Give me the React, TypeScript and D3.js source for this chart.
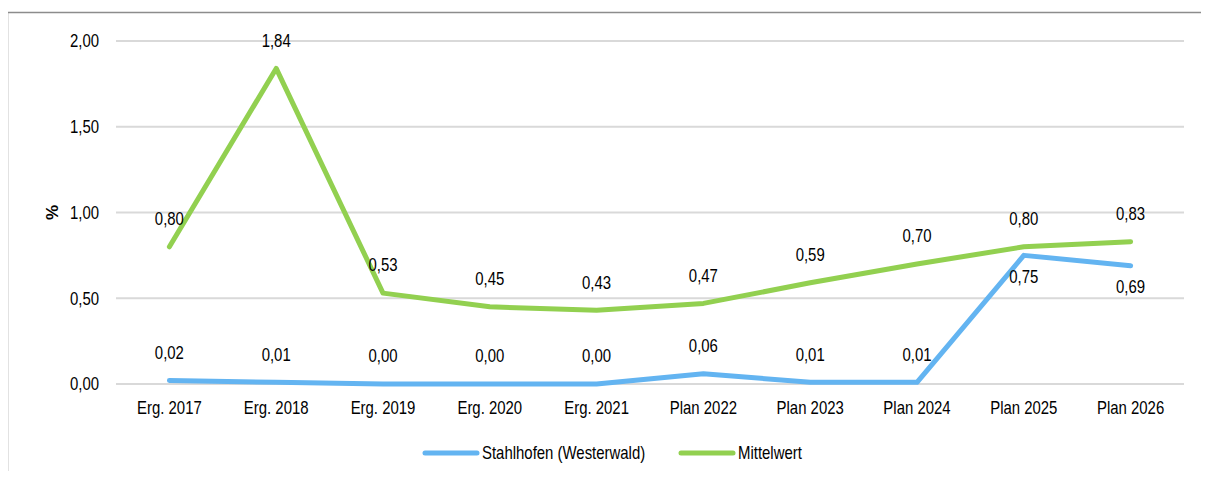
import { useEffect, useRef } from "react";
import * as d3 from "d3";

const categories = [
  "Erg. 2017", "Erg. 2018", "Erg. 2019", "Erg. 2020", "Erg. 2021",
  "Plan 2022", "Plan 2023", "Plan 2024", "Plan 2025", "Plan 2026",
];
const stahlhofen = [0.02, 0.01, 0.0, 0.0, 0.0, 0.06, 0.01, 0.01, 0.75, 0.69];
const mittelwert = [0.8, 1.84, 0.53, 0.45, 0.43, 0.47, 0.59, 0.7, 0.8, 0.83];
const yTicks = [0, 0.5, 1, 1.5, 2];
// label placement: true = below the point
const stahlBelow = [false, false, false, false, false, false, false, false, true, true];

const FONT = "'Liberation Sans', Arial, sans-serif";
const NARROW = 0.83; // no narrow font installed, squeeze horizontally
const BLUE = "#63b4f1";
const GREEN = "#92d050";

const fmt = (v: number) => d3.format(".2f")(v).replace(".", ",");

export default function App() {
  const svgRef = useRef<SVGSVGElement>(null);

  useEffect(() => {
    if (!svgRef.current) return;
    const width = 1209;
    const height = 479;
    const svg = d3.select(svgRef.current);
    svg.selectAll("*").remove();
    svg.attr("width", width).attr("height", height);

    const label = (
      parent: d3.Selection<any, any, any, any>,
      px: number,
      py: number,
      txt: string,
      anchor: string,
      weight = 400
    ) => {
      parent.append("g")
        .attr("transform", `translate(${px},${py}) scale(${NARROW},1)`)
        .append("text")
        .attr("dy", "0.35em")
        .attr("text-anchor", anchor)
        .attr("font-family", FONT)
        .attr("font-size", 18)
        .attr("font-weight", weight)
        .attr("fill", "#000")
        .text(txt);
    };

    // outer frame (left + top visible)
    svg.append("path")
      .attr("d", `M7.5,${height} L7.5,12.5 L${width},12.5`)
      .attr("fill", "none")
      .attr("stroke", "#8c8c8c")
      .attr("stroke-width", 1.5);

    const x = d3.scaleBand<string>().domain(categories).range([116, 1184]);
    const y = d3.scaleLinear().domain([0, 2]).range([384, 41]);
    const cx = (c: string) => (x(c) ?? 0) + x.bandwidth() / 2;

    // gridlines
    svg.append("g")
      .selectAll("line")
      .data(yTicks)
      .join("line")
      .attr("x1", 116)
      .attr("x2", 1184)
      .attr("y1", (d) => y(d))
      .attr("y2", (d) => y(d))
      .attr("stroke", "#d9d9d9")
      .attr("stroke-width", 2);

    const axisG = svg.append("g");
    yTicks.forEach((t) => label(axisG, 99, y(t), fmt(t), "end"));

    // y axis title
    svg.append("text")
      .attr("transform", `translate(52,${y(1)}) rotate(-90)`)
      .attr("text-anchor", "middle")
      .attr("dy", "0.35em")
      .attr("font-family", FONT)
      .attr("font-size", 17)
      .attr("font-weight", 700)
      .text("%");

    categories.forEach((c) => label(axisG, cx(c), 408, c, "middle"));

    const line = d3.line<number>()
      .x((_, i) => cx(categories[i]))
      .y((d) => y(d));

    const series = [
      { name: "Stahlhofen (Westerwald)", values: stahlhofen, color: BLUE, below: stahlBelow },
      { name: "Mittelwert", values: mittelwert, color: GREEN, below: categories.map(() => false) },
    ];

    series.forEach((s) => {
      svg.append("path")
        .datum(s.values)
        .attr("d", line)
        .attr("fill", "none")
        .attr("stroke", s.color)
        .attr("stroke-width", 5)
        .attr("stroke-linecap", "round")
        .attr("stroke-linejoin", "round");
    });

    series.forEach((s) => {
      const g = svg.append("g");
      s.values.forEach((v, i) =>
        label(g, cx(categories[i]), y(v) + (s.below[i] ? 21 : -28), fmt(v), "middle")
      );
    });

    // legend
    const legendItems = [
      { ...series[0], lx: 423 },
      { ...series[1], lx: 679 },
    ];
    const lg = svg.append("g");
    legendItems.forEach((s) => {
      lg.append("line")
        .attr("x1", s.lx + 2)
        .attr("x2", s.lx + 54)
        .attr("y1", 453)
        .attr("y2", 453)
        .attr("stroke", s.color)
        .attr("stroke-width", 5)
        .attr("stroke-linecap", "round");
      label(lg, s.lx + 59, 453, s.name, "start");
    });
  }, []);

  return (
    <div style={{ margin: -8, width: 1209, height: 479, background: "#fff" }}>
      <svg ref={svgRef} style={{ display: "block" }} />
    </div>
  );
}
